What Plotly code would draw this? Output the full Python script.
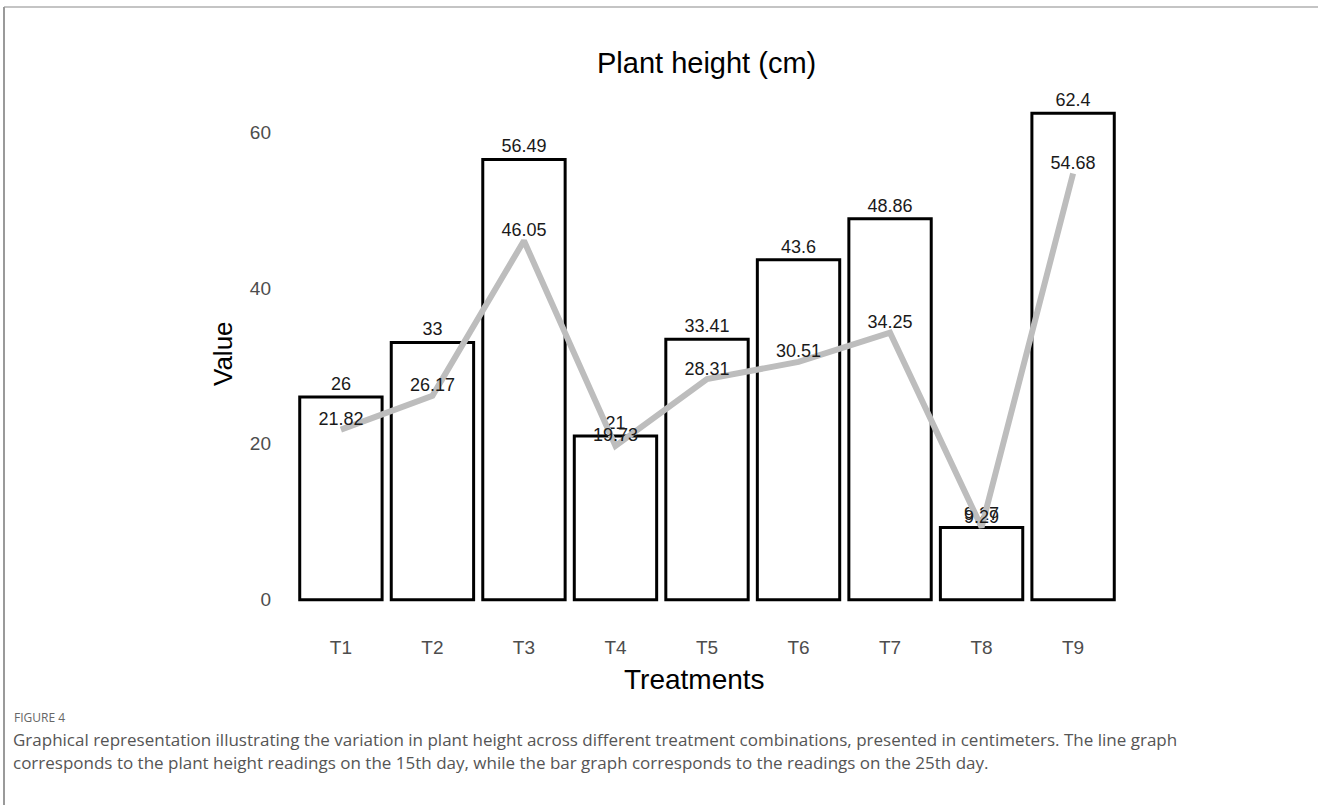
import plotly.graph_objects as go

treatments = ["T1", "T2", "T3", "T4", "T5", "T6", "T7", "T8", "T9"]
day25_height = [26, 33, 56.49, 21, 33.41, 43.6, 48.86, 9.27, 62.4]
day15_height = [21.82, 26.17, 46.05, 19.73, 28.31, 30.51, 34.25, 9.29, 54.68]
y_ticks = [0, 20, 40, 60]

caption_lines = [
    "Graphical representation illustrating the variation in plant height across different treatment combinations, presented in centimeters. The line graph",
    "corresponds to the plant height readings on the 15th day, while the bar graph corresponds to the readings on the 25th day.",
]

W, H = 1318, 805
ML, MR, MT, MB = 286, 190, 89, 181
PW, PH = W - ML - MR, H - MT - MB

chart_font = "Liberation Sans, Arial, sans-serif"
caption_font = "Open Sans, Noto Sans, sans-serif"


def px(x):
    """Horizontal pixel position -> paper coordinate."""
    return (x - ML) / PW


def py(y):
    """Vertical pixel position (from top) -> paper coordinate."""
    return (H - MB - y) / PH


fig = go.Figure()

# 25th-day readings as outlined bars
fig.add_trace(go.Bar(
    x=treatments, y=day25_height, width=0.9,
    marker=dict(color="white", line=dict(color="black", width=3)),
    text=[f"{v:g}" for v in day25_height], textposition="outside",
    textfont=dict(family=chart_font, size=18, color="#1a1a1a"),
    cliponaxis=False, hoverinfo="x+y", showlegend=False,
))

# 15th-day readings as a grey line
fig.add_trace(go.Scatter(
    x=treatments, y=day15_height, mode="lines+text",
    line=dict(color="#bdbdbd", width=6),
    text=[f"{v:g}" for v in day15_height], textposition="top center",
    textfont=dict(family=chart_font, size=18, color="#1a1a1a"),
    cliponaxis=False, showlegend=False,
))

annotations = [
    dict(text="Plant height (cm)", x=px(706), y=py(63),
         xanchor="center", font=dict(family=chart_font, size=29, color="black")),
    dict(text="Treatments", x=px(694), y=py(679),
         xanchor="center", font=dict(family=chart_font, size=28, color="black")),
    dict(text="Value", x=px(223), y=py(354), textangle=-90,
         xanchor="center", font=dict(family=chart_font, size=26, color="black")),
    dict(text="FIGURE 4", x=px(12), y=py(717),
         xanchor="left", font=dict(family=caption_font, size=12, color="#666666")),
]
for i, line in enumerate(caption_lines):
    annotations.append(dict(text=line, x=px(11), y=py(739 + 23 * i), xanchor="left",
                            font=dict(family=caption_font, size=17, color="#555555")))
for a in annotations:
    a.update(xref="paper", yref="paper", showarrow=False, yanchor="middle")

fig.update_layout(
    width=W, height=H,
    margin=dict(l=ML, r=MR, t=MT, b=MB),
    paper_bgcolor="white", plot_bgcolor="white",
    xaxis=dict(
        range=[-0.6, 8.6], showgrid=False, zeroline=False, showline=False,
        ticks="", tickfont=dict(family=chart_font, size=19, color="#4d4d4d"),
        ticklabelstandoff=10,
    ),
    yaxis=dict(
        range=[-3.12, 65.52], tickvals=y_ticks, showgrid=False, zeroline=False,
        showline=False, ticks="", tickfont=dict(family=chart_font, size=19, color="#4d4d4d"),
        ticklabelstandoff=14,
    ),
    shapes=[
        dict(type="line", xref="paper", yref="paper", x0=px(4), x1=px(W),
             y0=py(7), y1=py(7), line=dict(color="#c4c4c4", width=2)),
        dict(type="line", xref="paper", yref="paper", x0=px(4), x1=px(4),
             y0=py(7), y1=py(H), line=dict(color="#9a9a9a", width=2)),
    ],
    annotations=annotations,
)

fig.write_html("out.html")
